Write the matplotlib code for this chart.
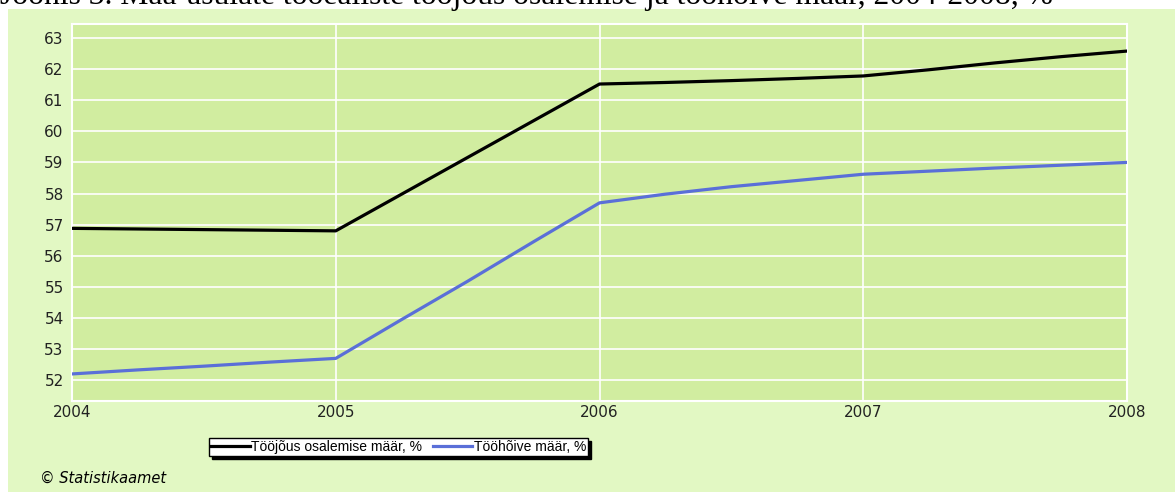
import matplotlib.pyplot as plt
from matplotlib.patches import Rectangle

# andmed (loetud jooniselt, kvartalite kaupa)
aeg = [2004, 2004.25, 2004.5, 2004.75,
       2005, 2005.25, 2005.5, 2005.75,
       2006, 2006.25, 2006.5, 2006.75,
       2007, 2007.25, 2007.5, 2007.75, 2008]
osalemine = [56.88, 56.86, 56.84, 56.82,
             56.80, 57.98, 59.16, 60.34,
             61.52, 61.57, 61.63, 61.70,
             61.78, 61.98, 62.20, 62.40, 62.58]
hoive = [52.20, 52.33, 52.45, 52.58,
         52.70, 53.95, 55.18, 56.45,
         57.70, 57.98, 58.22, 58.42,
         58.62, 58.72, 58.82, 58.91, 59.00]
aastad = [2004, 2005, 2006, 2007, 2008]
y_ticks = list(range(52, 64))
nimed = ["Tööjõus osalemise määr, %", "Tööhõive määr, %"]

plt.rcParams["font.family"] = ["Liberation Sans", "DejaVu Sans"]

W, H = 1175, 492
fig = plt.figure(figsize=(W / 100, H / 100), dpi=100, facecolor="white")

# roheline taust
fig.patches.append(Rectangle((8 / W, 0), 1 - 8 / W, 1 - 9 / H, transform=fig.transFigure,
                             facecolor="#e2f8c3", edgecolor="none", zorder=-5))

fig.text(0.0, 1 - 4 / H, "Joonis 3. Maa-asulate tööealiste tööjõus osalemise ja tööhõive määr, 2004-2008, %",
         family="Liberation Serif", fontsize=22.8, va="baseline", ha="left", zorder=-4)

ax = fig.add_axes([72 / W, (H - 401) / H, (1127 - 72) / W, (401 - 24) / H])
ax.set_zorder(2)
ax.set_facecolor("#d1eda0")
ax.plot(aeg, osalemine, color="black", lw=2.3, label=nimed[0], zorder=3)
ax.plot(aeg, hoive, color="#5a6fd8", lw=2.3, label=nimed[1], zorder=3)

ax.set_xlim(2004, 2008)
ax.set_ylim(51.33, 63.45)
ax.set_xticks(aastad)
ax.set_yticks(y_ticks)
ax.grid(True, color="white", lw=1.2)
ax.set_axisbelow(True)
ax.tick_params(length=0, labelsize=11, colors="#222222")
ax.tick_params(axis="x", pad=3)
ax.tick_params(axis="y", pad=6)
for lab in ax.get_xticklabels() + ax.get_yticklabels():
    lab.set_family("DejaVu Sans")
for s in ax.spines.values():
    s.set_color("white")
    s.set_linewidth(1.5)

leg = fig.legend(loc="center left", bbox_to_anchor=(202 / W, 1 - 447 / H), ncol=2,
                 fancybox=False, edgecolor="black", framealpha=1, fontsize=10,
                 borderpad=0.15, handlelength=2.8, handletextpad=0.1, columnspacing=0.8,
                 shadow={"color": "black", "alpha": 1})
leg.get_frame().set_linewidth(1)
leg.set_zorder(5)

fig.text(40 / W, 1 - 478 / H, "© Statistikaamet", family="DejaVu Sans", style="italic",
         fontsize=10.5, va="center")

plt.savefig("out.png", dpi=100, facecolor=fig.get_facecolor())
